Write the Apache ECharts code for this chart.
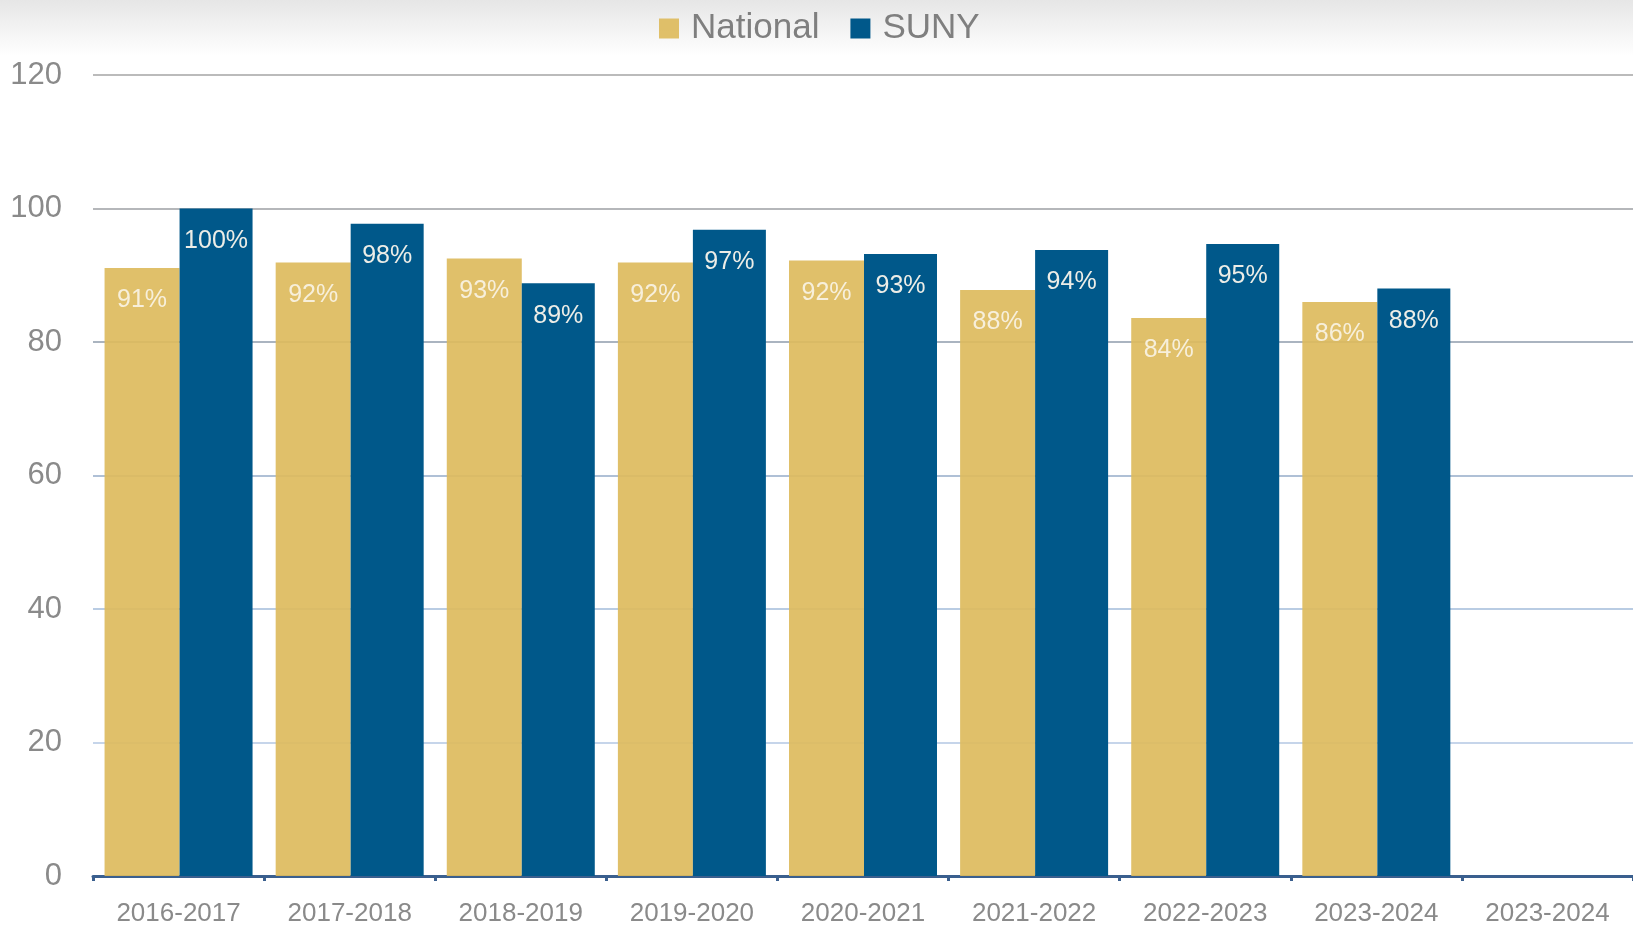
<!DOCTYPE html>
<html>
<head>
<meta charset="utf-8">
<script src="https://cdn.jsdelivr.net/npm/echarts@6/dist/echarts.min.js"></script>
<style>
html,body{margin:0;padding:0;background:#fff;}
#chart{width:1633px;height:930px;}
</style>
</head>
<body>
<div id="chart"></div>
<script>
const categories = ['2016-2017','2017-2018','2018-2019','2019-2020','2020-2021','2021-2022','2022-2023','2023-2024','2023-2024'];
const nationalValues = [91.1, 91.9, 92.5, 91.9, 92.2, 87.8, 83.6, 86.0, null];
const sunyValues = [100, 97.7, 88.8, 96.8, 93.2, 93.8, 94.7, 88.0, null];
const yTicks = [0, 20, 40, 60, 80, 100, 120];

const chart = echarts.init(document.getElementById('chart'));
const font = "'Liberation Sans', Arial, Helvetica, sans-serif";
const labelOpt = {
  show: true,
  position: 'insideTop',
  distance: 20,
  color: 'rgba(250,246,236,0.95)',
  fontSize: 25,
  fontFamily: font,
  formatter: p => (p.value == null ? '' : Math.round(p.value) + '%')
};
chart.setOption({
  animation: false,
  backgroundColor: '#ffffff',
  graphic: [{
    type: 'rect',
    z: 0,
    silent: true,
    shape: {x: 0, y: 0, width: 1633, height: 56},
    style: {
      fill: new echarts.graphic.LinearGradient(0, 0, 0, 1, [
        {offset: 0, color: '#e6e6e6'},
        {offset: 1, color: '#ffffff'}
      ])
    }
  }],
  legend: {
    top: 6,
    left: 654,
    itemWidth: 20,
    itemHeight: 20,
    itemGap: 31,
    icon: 'rect',
    textStyle: {color: '#7f7f7f', fontSize: 35, fontFamily: font, padding: [0, 0, 0, 7]},
    data: ['National', 'SUNY']
  },
  grid: {left: 93, top: 75, width: 1545, height: 801, containLabel: false},
  xAxis: {
    type: 'category',
    data: categories,
    boundaryGap: true,
    axisLine: {show: true, lineStyle: {color: '#3a5f8e', width: 3}},
    axisTick: {show: true, length: 5, lineStyle: {color: '#3a5f8e', width: 3}},
    axisLabel: {color: '#8a8a8a', fontSize: 26, fontFamily: font, margin: 25, interval: 0},
    splitLine: {show: false}
  },
  yAxis: {
    type: 'value',
    min: yTicks[0],
    max: yTicks[yTicks.length - 1],
    interval: 20,
    axisLine: {show: false},
    axisTick: {show: false},
    axisLabel: {color: '#8a8a8a', fontSize: 31, fontFamily: font, margin: 31, lineHeight: 36, padding: [6, 0, 0, 0]},
    splitLine: {
      show: true,
      lineStyle: {
        width: 2,
        color: ['#c6d5ea', '#c6d5ea', '#b9cce3', '#afc0d6', '#aab4c0', '#b5b7ba', '#bbbbbb']
      }
    }
  },
  series: [
    {
      name: 'National',
      type: 'bar',
      data: nationalValues,
      barWidth: 75,
      barGap: '0%',
      itemStyle: {color: 'rgb(221,187,93)', opacity: 0.92},
      label: labelOpt
    },
    {
      name: 'SUNY',
      type: 'bar',
      data: sunyValues,
      barWidth: 73,
      barGap: '0%',
      itemStyle: {color: '#00588a'},
      label: labelOpt
    }
  ]
});
</script>
</body>
</html>
